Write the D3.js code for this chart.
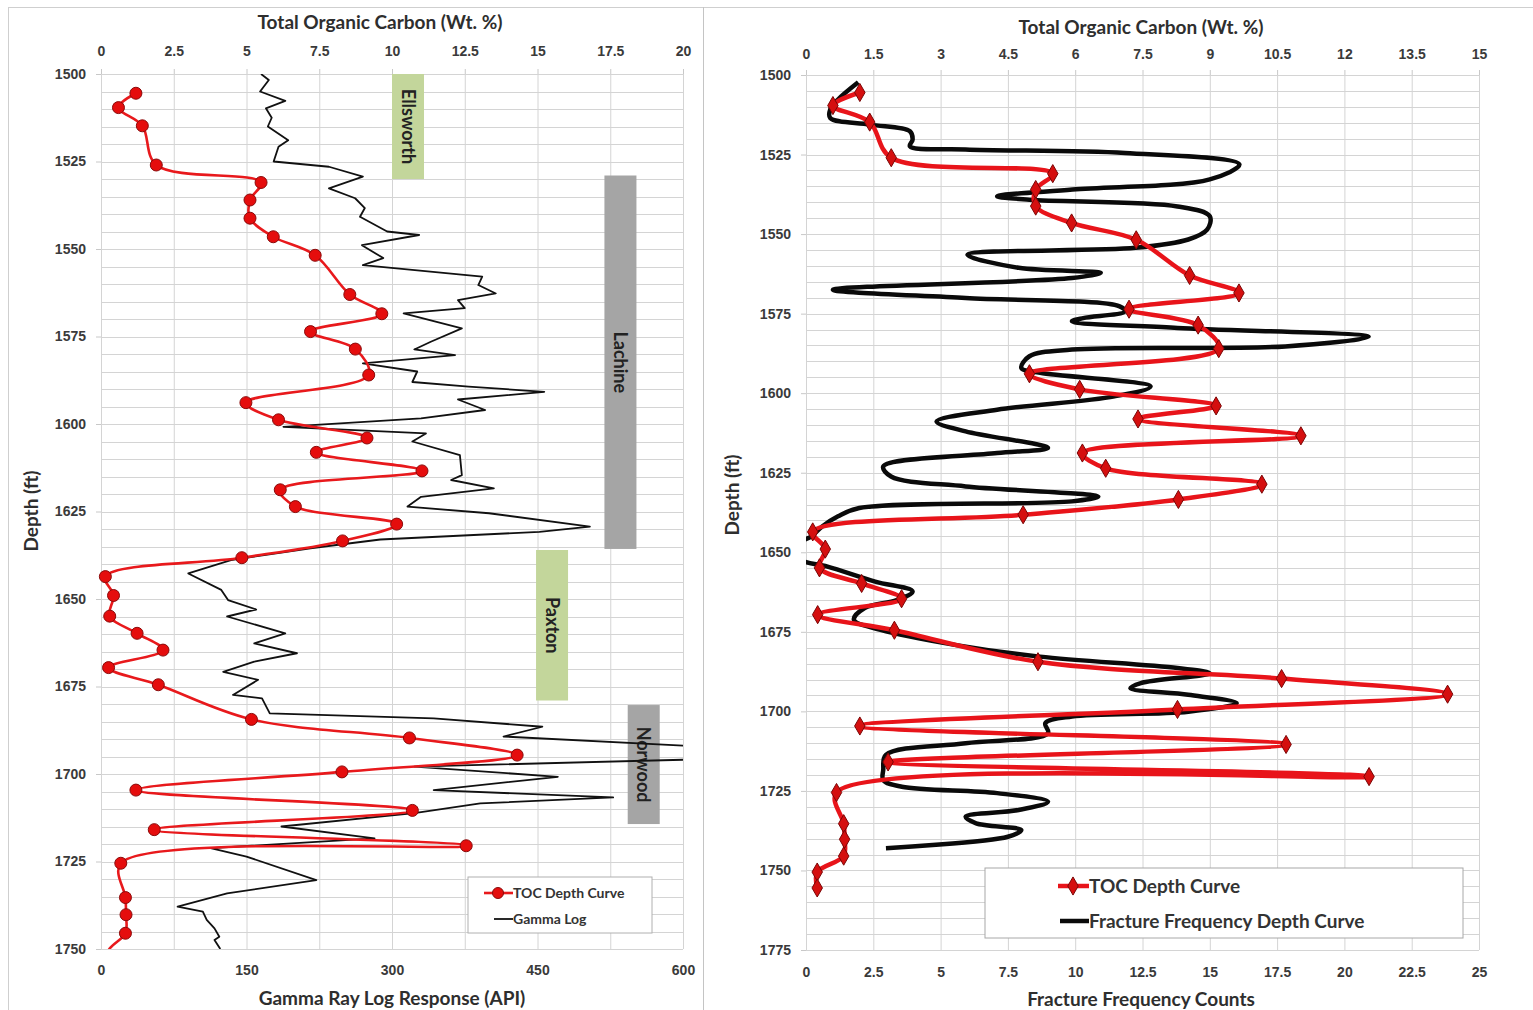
<!DOCTYPE html>
<html>
  <head>
    <meta charset="utf-8">
    <title>TOC depth curves</title>
  </head>
  <style>
    body { margin: 0; background: #fff; font-family: "Lato", "Open Sans", sans-serif; }
    svg { display: block; }
    .grid .domain { display: none; }
    .grid .tick line { stroke: #d4d4d4; stroke-width: 1; }
    .grid .tick text { display: none; }
    .axis .domain { display: none; }
    .axis .tick line { stroke: #c8c8c8; }
    .axis .tick text { fill: #3a3a3a; font-size: 14px; font-weight: bold; }
    .title { fill: #2e2e2e; font-size: 19px; font-weight: bold; }
  </style>
  <script src="https://d3js.org/d3.v7.min.js"></script>
  <body>
    <script>
    // TOC samples (shared by both panels)
    const tocDepth = [1505.5, 1509.6, 1514.8, 1526, 1531, 1536, 1541.2, 1546.5, 1551.8, 1563,
                      1568.5, 1573.6, 1578.6, 1586, 1593.9, 1598.8, 1604, 1608.1, 1613.4, 1618.8,
                      1623.6, 1628.6, 1633.4, 1638.2, 1643.6, 1649, 1654.9, 1659.8, 1664.6, 1669.6,
                      1674.5, 1684.4, 1689.7, 1694.6, 1699.4, 1704.6, 1710.4, 1715.9, 1720.5, 1725.5,
                      1735.3, 1740.2, 1745.5, 1750.5, 1755.5]
    const tocValue = [1.2, 0.6, 1.42, 1.9, 5.5, 5.12, 5.12, 5.92, 7.36, 8.55,
                      9.65, 7.2, 8.74, 9.2, 4.98, 6.1, 9.14, 7.4, 11.03, 6.16,
                      6.68, 10.16, 8.3, 4.84, 0.15, 0.43, 0.3, 1.24, 2.13, 0.26,
                      1.97, 5.17, 10.6, 14.3, 8.28, 1.2, 10.7, 1.83, 12.55, 0.68,
                      0.84, 0.86, 0.84, 0.25, 0.25]

    // gamma ray log (API)
    const grDepth = [1500, 1501.7, 1505, 1507.7, 1509.8, 1512.5, 1515, 1518.9, 1520.8, 1525,
                     1526.5, 1529.3, 1532.7, 1535.5, 1538.3, 1540.8, 1545, 1546, 1548.9, 1552.6,
                     1554.6, 1557.9, 1560.3, 1562.7, 1564.6, 1566.9, 1568.4, 1572.7, 1576.5, 1578.7,
                     1580.3, 1582.7, 1585, 1588, 1589.3, 1590.8, 1593, 1596, 1598.4, 1600.8,
                     1602.7, 1605, 1608.9, 1614.6, 1616, 1618.4, 1620.8, 1623.6, 1625.5, 1629.3,
                     1630.8, 1633, 1635.5, 1638.9, 1642.7, 1647.4, 1650.3, 1653, 1655, 1659.8,
                     1662.7, 1665.5, 1667.9, 1670.8, 1673.1, 1677.4, 1678.4, 1682.7, 1684.1, 1686.5,
                     1689.3, 1692.7, 1695.5, 1697.9, 1700.8, 1704.6, 1706.7, 1708.4, 1711.2, 1715,
                     1718.4, 1721.2, 1723.6, 1730.3, 1734.1, 1737.9, 1739.3, 1741.7, 1744.1, 1746.5,
                     1747.4, 1750]
    const grValue = [165, 173, 164, 190, 170, 176, 172, 193, 183, 178,
                     235, 270, 235, 262, 272, 267, 295, 328, 269, 291,
                     270, 393, 389, 407, 368, 375, 312, 372, 340, 323,
                     365, 270, 326, 321, 379, 457, 368, 396, 330, 188,
                     335, 321, 370, 372, 361, 405, 330, 316, 400, 504,
                     452, 288, 216, 134, 90, 124, 131, 160, 130, 190,
                     158, 202, 158, 126, 162, 136, 166, 174, 343, 455,
                     415, 660, 660, 323, 471, 343, 528, 391, 323, 186,
                     282, 113, 150, 222, 130, 79, 105, 109, 117, 122,
                     117, 123]

    // fracture frequency counts
    const ffDepth = [1502.3, 1507.7, 1510.8, 1513.5, 1515.6, 1517.7, 1520.3, 1522.4, 1523.4, 1524.5,
                     1528.1, 1532.8, 1536, 1538.1, 1539.2, 1541.3, 1544.4, 1548.6, 1551.7, 1554.3,
                     1556.5, 1560.6, 1562.2, 1563.8, 1567.5, 1570.1, 1572.7, 1574.3, 1576.4, 1577.4,
                     1579.5, 1582.3, 1585.3, 1586.3, 1588.4, 1592.1, 1593.6, 1597.9, 1601, 1605.2,
                     1608.9, 1612, 1617.2, 1618.8, 1623, 1626.2, 1629.3, 1632.5, 1634, 1636.1,
                     1638.7, 1641.9, 1645, 1648.5, 1652.4, 1654.5, 1659.2, 1662.3, 1665, 1667.5,
                     1671.2, 1674.4, 1679.1, 1682.8, 1686.4, 1688, 1691.1, 1692.7, 1694.8, 1697.4,
                     1700.1, 1701.6, 1703.7, 1706.9, 1710, 1713.7, 1718.4, 1721.6, 1723.7, 1725.7,
                     1728.4, 1731, 1733.1, 1735.2, 1737.3, 1739.4, 1743]
    const ffValue = [1.94, 1.19, 0.9, 0.9, 2.38, 3.86, 3.96, 3.86, 5.93, 11.85,
                     16.1, 15.0, 9.9, 7.1, 8.3, 13.8, 15.0, 14.9, 14.2, 12.24,
                     6.0, 7.9, 10.95, 9.88, 1.0, 5.93, 11.65, 11.85, 10.3, 9.88,
                     13.8, 20.9, 17.8, 9.88, 8.3, 8.0, 8.7, 12.8, 11.46, 7.1,
                     4.85, 5.93, 8.99, 7.1, 2.87, 3.16, 5.93, 10.86, 9.88, 1.98,
                     1.19, 0.6, 0.2, -0.6, -0.2, 0.8, 2.57, 3.96, 3.37, 2.18,
                     1.78, 2.77, 5.53, 8.69, 13.8, 15.0, 12.44, 12.05, 14.2, 16.0,
                     14.2, 9.88, 8.89, 8.99, 5.93, 2.97, 2.87, 2.87, 3.56, 7.1,
                     8.99, 7.9, 5.93, 6.32, 8.0, 7.5, 2.97]

    // formation intervals (ft)
    const formationNames = ["Ellsworth", "Lachine", "Paxton", "Norwood"]
    const formationTop = [1500, 1529, 1636, 1680.3]
    const formationBase = [1530, 1635.7, 1679, 1714.3]

    // tick labels
    const leftTocTicks = [0, 2.5, 5, 7.5, 10, 12.5, 15, 17.5, 20]
    const leftGrTicks = [0, 150, 300, 450, 600]
    const leftDepthTicks = [1500, 1525, 1550, 1575, 1600, 1625, 1650, 1675, 1700, 1725, 1750]
    const rightTocTicks = [0, 1.5, 3, 4.5, 6, 7.5, 9, 10.5, 12, 13.5, 15]
    const rightFfTicks = [0, 2.5, 5, 7.5, 10, 12.5, 15, 17.5, 20, 22.5, 25]
    const rightDepthTicks = [1500, 1525, 1550, 1575, 1600, 1625, 1650, 1675, 1700, 1725, 1750, 1775]

    const toc = tocDepth.map(function(d, i){ return { depth: d, v: tocValue[i] } })
    const gr = grDepth.map(function(d, i){ return { depth: d, v: grValue[i] } })
    const ff = ffDepth.map(function(d, i){ return { depth: d, v: ffValue[i] } })

    var svg = d3.select("body").append("svg")
                .attr("width", 1533)
                .attr("height", 1010)

    // frame
    svg.append("line").attr("x1", 8).attr("x2", 1533).attr("y1", 7.5).attr("y2", 7.5).attr("stroke", "#cfcfcf")
    svg.append("line").attr("x1", 8.5).attr("x2", 8.5).attr("y1", 7).attr("y2", 1010).attr("stroke", "#cfcfcf")
    svg.append("line").attr("x1", 703.5).attr("x2", 703.5).attr("y1", 7).attr("y2", 1010).attr("stroke", "#c4c4c4")

    var defs = svg.append("defs")

    function gridY(g, y, x0, x1, step) {
      var ys = d3.range(y.domain()[0], y.domain()[1] + 0.01, step)
      g.append("g").selectAll("line").data(ys).enter().append("line")
        .attr("x1", x0).attr("x2", x1)
        .attr("y1", function(d){ return Math.round(y(d)) + 0.5 })
        .attr("y2", function(d){ return Math.round(y(d)) + 0.5 })
        .attr("stroke", "#d4d4d4")
    }

    /* ---------------- left panel ---------------- */
    var L = { x0: 101, x1: 683, y0: 74, y1: 949 }
    var lToc = d3.scaleLinear().domain([0, 20]).range([L.x0, L.x1])
    var lGr = d3.scaleLinear().domain([0, 600]).range([L.x0, L.x1])
    var lY = d3.scaleLinear().domain([1500, 1750]).range([L.y0, L.y1])

    var left = svg.append("g")
    gridY(left, lY, L.x0, L.x1, 5)

    left.append("g").attr("class", "grid")
        .attr("transform", "translate(0," + L.y1 + ")")
        .call(d3.axisBottom(lToc).tickValues(leftTocTicks).tickSize(-(L.y1 - L.y0)).tickFormat(""))

    left.append("g").attr("class", "axis")
        .attr("transform", "translate(0," + L.y0 + ")")
        .call(d3.axisTop(lToc).tickValues(leftTocTicks).tickSize(5).tickPadding(13).tickFormat(d3.format("")))
    left.append("g").attr("class", "axis")
        .attr("transform", "translate(" + L.x0 + ",0)")
        .call(d3.axisLeft(lY).tickValues(leftDepthTicks).tickSize(5).tickPadding(10).tickFormat(d3.format("")))
    left.append("g").attr("class", "axis")
        .attr("transform", "translate(0," + L.y1 + ")")
        .call(d3.axisBottom(lGr).tickValues(leftGrTicks).tickSize(0).tickPadding(16).tickFormat(d3.format("")))

    // formation tags
    var tagX = [10, 17.3, 14.95, 18.1]
    var tagColor = ["#c3d69b", "#a5a5a5", "#c3d69b", "#a5a5a5"]
    formationNames.forEach(function(name, i){
      var x = lToc(tagX[i]), w = lToc(1.1) - lToc(0)
      var t = lY(formationTop[i]), b = lY(formationBase[i])
      left.append("rect").attr("x", x).attr("y", t).attr("width", w).attr("height", b - t)
          .attr("fill", tagColor[i])
      left.append("text")
          .attr("transform", "translate(" + (x + w / 2) + "," + ((t + b) / 2) + ") rotate(90)")
          .attr("text-anchor", "middle").attr("dy", "0.35em")
          .attr("font-size", 18).attr("font-weight", "bold").attr("fill", "#222")
          .text(name)
    })

    defs.append("clipPath").attr("id", "clipL").append("rect")
        .attr("x", L.x0 - 10).attr("y", L.y0).attr("width", L.x1 - L.x0 + 10).attr("height", L.y1 - L.y0)
    defs.append("clipPath").attr("id", "clipLgr").append("rect")
        .attr("x", L.x0).attr("y", L.y0).attr("width", L.x1 - L.x0).attr("height", L.y1 - L.y0)

    left.append("path").datum(gr)
        .attr("clip-path", "url(#clipLgr)")
        .attr("fill", "none").attr("stroke", "#111").attr("stroke-width", 1.8)
        .attr("stroke-linejoin", "round")
        .attr("d", d3.line().x(function(d){ return lGr(d.v) }).y(function(d){ return lY(d.depth) }))

    var lTocG = left.append("g").attr("clip-path", "url(#clipL)")
    lTocG.append("path").datum(toc)
        .attr("fill", "none").attr("stroke", "#e8191c").attr("stroke-width", 2.6)
        .attr("d", d3.line().curve(d3.curveCatmullRom.alpha(0.5))
                    .x(function(d){ return lToc(d.v) }).y(function(d){ return lY(d.depth) }))
    lTocG.selectAll("circle").data(toc.filter(function(d){ return d.depth < 1750 }))
        .enter().append("circle")
        .attr("cx", function(d){ return lToc(d.v) })
        .attr("cy", function(d){ return lY(d.depth) })
        .attr("r", 6)
        .attr("fill", "#e50d0d").attr("stroke", "#8a0a0a").attr("stroke-width", 1)

    // left legend
    var lg = left.append("g").attr("transform", "translate(468,877)")
    lg.append("rect").attr("width", 184).attr("height", 56).attr("fill", "#fff").attr("stroke", "#b0b0b0")
    lg.append("line").attr("x1", 16).attr("x2", 45).attr("y1", 16).attr("y2", 16).attr("stroke", "#e8191c").attr("stroke-width", 2.6)
    lg.append("circle").attr("cx", 30).attr("cy", 16).attr("r", 5.5).attr("fill", "#e50d0d").attr("stroke", "#8a0a0a")
    lg.append("text").attr("x", 45).attr("y", 21).attr("font-size", 14).attr("font-weight", "bold").attr("fill", "#333").text("TOC Depth Curve")
    lg.append("line").attr("x1", 26).attr("x2", 45).attr("y1", 42).attr("y2", 42).attr("stroke", "#111").attr("stroke-width", 1.8)
    lg.append("text").attr("x", 45).attr("y", 47).attr("font-size", 14).attr("font-weight", "bold").attr("fill", "#333").text("Gamma Log")

    left.append("text").attr("class", "title").attr("x", 380).attr("y", 29).attr("text-anchor", "middle")
        .text("Total Organic Carbon (Wt. %)")
    left.append("text").attr("class", "title").attr("x", 392).attr("y", 1005).attr("text-anchor", "middle")
        .text("Gamma Ray Log Response (API)")
    left.append("text").attr("class", "title").attr("transform", "translate(38,511) rotate(-90)")
        .attr("text-anchor", "middle").text("Depth (ft)")

    /* ---------------- right panel ---------------- */
    var R = { x0: 806, x1: 1479, y0: 75, y1: 950 }
    var rToc = d3.scaleLinear().domain([0, 15]).range([R.x0, R.x1])
    var rFf = d3.scaleLinear().domain([0, 25]).range([R.x0, R.x1])
    var rY = d3.scaleLinear().domain([1500, 1775]).range([R.y0, R.y1])

    var right = svg.append("g")
    gridY(right, rY, R.x0, R.x1, 5)

    right.append("g").attr("class", "grid")
        .attr("transform", "translate(0," + R.y1 + ")")
        .call(d3.axisBottom(rFf).tickValues(rightFfTicks).tickSize(-(R.y1 - R.y0)).tickFormat(""))

    right.append("g").attr("class", "axis")
        .attr("transform", "translate(0," + R.y0 + ")")
        .call(d3.axisTop(rToc).tickValues(rightTocTicks).tickSize(5).tickPadding(11).tickFormat(d3.format("")))
    right.append("g").attr("class", "axis")
        .attr("transform", "translate(" + R.x0 + ",0)")
        .call(d3.axisLeft(rY).tickValues(rightDepthTicks).tickSize(5).tickPadding(10).tickFormat(d3.format("")))
    right.append("g").attr("class", "axis")
        .attr("transform", "translate(0," + R.y1 + ")")
        .call(d3.axisBottom(rFf).tickValues(rightFfTicks).tickSize(0).tickPadding(17).tickFormat(d3.format("")))

    defs.append("clipPath").attr("id", "clipR").append("rect")
        .attr("x", R.x0).attr("y", R.y0 - 10).attr("width", R.x1 - R.x0).attr("height", R.y1 - R.y0 + 10)

    right.append("path").datum(ff)
        .attr("clip-path", "url(#clipR)")
        .attr("fill", "none").attr("stroke", "#0a0a0a").attr("stroke-width", 4.5)
        .attr("stroke-linejoin", "round")
        .attr("d", d3.line().curve(d3.curveCatmullRom.alpha(0.5))
                    .x(function(d){ return rFf(d.v) }).y(function(d){ return rY(d.depth) }))

    right.append("path").datum(toc)
        .attr("fill", "none").attr("stroke", "#e8141a").attr("stroke-width", 4.5)
        .attr("stroke-linejoin", "round")
        .attr("d", d3.line().curve(d3.curveCatmullRom.alpha(0.5))
                    .x(function(d){ return rToc(d.v) }).y(function(d){ return rY(d.depth) }))

    var diamond = d3.symbol().type(d3.symbolDiamond).size(95)
    right.selectAll(".mk").data(toc).enter().append("path")
        .attr("class", "mk")
        .attr("transform", function(d){ return "translate(" + rToc(d.v) + "," + rY(d.depth) + ")" })
        .attr("d", diamond)
        .attr("fill", "#d50f0f").attr("stroke", "#7a0606").attr("stroke-width", 1)

    // right legend
    var rg = right.append("g").attr("transform", "translate(985,868)")
    rg.append("rect").attr("width", 478).attr("height", 70).attr("fill", "#fff").attr("stroke", "#a8a8a8")
    rg.append("line").attr("x1", 73).attr("x2", 104).attr("y1", 18).attr("y2", 18).attr("stroke", "#e8141a").attr("stroke-width", 4.5)
    rg.append("path").attr("transform", "translate(88,18)").attr("d", diamond)
      .attr("fill", "#d50f0f").attr("stroke", "#7a0606")
    rg.append("text").attr("x", 104).attr("y", 25).attr("font-size", 19).attr("font-weight", "bold").attr("fill", "#333").text("TOC Depth Curve")
    rg.append("line").attr("x1", 75).attr("x2", 104).attr("y1", 53).attr("y2", 53).attr("stroke", "#0a0a0a").attr("stroke-width", 4.5)
    rg.append("text").attr("x", 104).attr("y", 60).attr("font-size", 19).attr("font-weight", "bold").attr("fill", "#333").text("Fracture Frequency Depth Curve")

    right.append("text").attr("class", "title").attr("x", 1141).attr("y", 34).attr("text-anchor", "middle")
        .text("Total Organic Carbon (Wt. %)")
    right.append("text").attr("class", "title").attr("x", 1141).attr("y", 1006).attr("text-anchor", "middle")
        .text("Fracture Frequency Counts")
    right.append("text").attr("class", "title").attr("transform", "translate(739,495) rotate(-90)")
        .attr("text-anchor", "middle").text("Depth (ft)")
    </script>
  </body>
</html>
